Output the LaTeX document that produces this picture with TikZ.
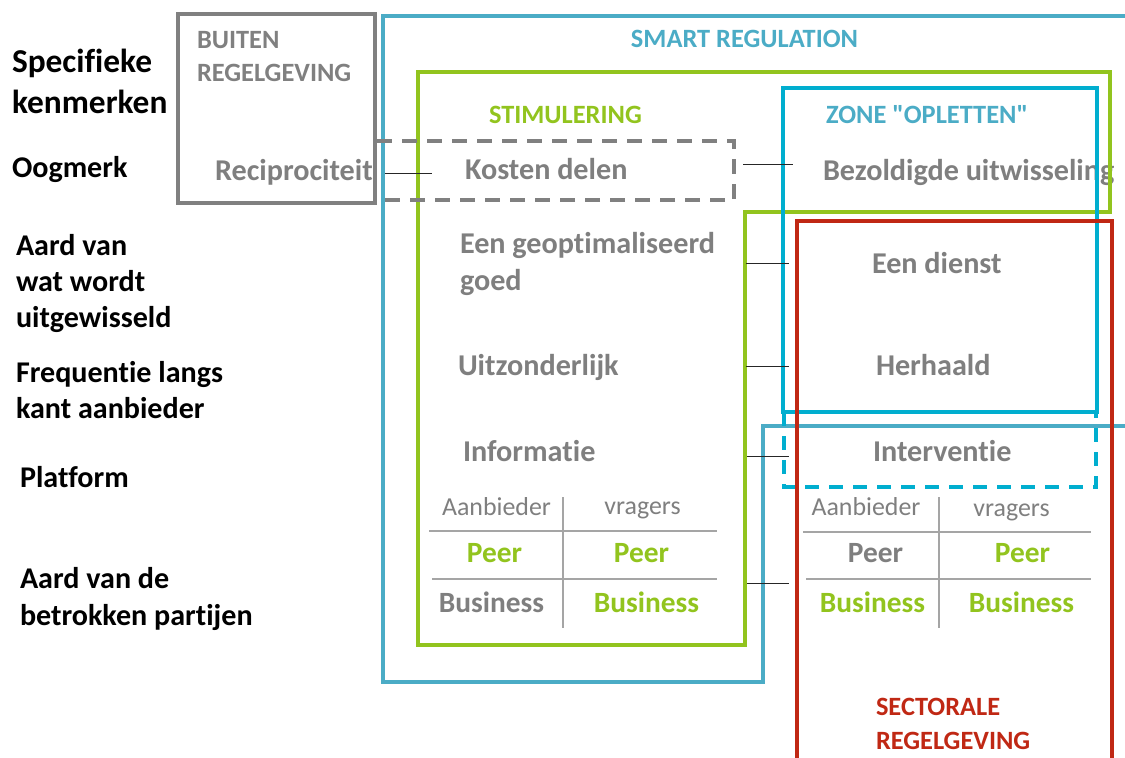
\documentclass[tikz,border=0pt]{standalone}
\usepackage{fontspec}
\setmainfont{Carlito}[Ligatures={TeX,NoCommon}]
\definecolor{txtgrey}{RGB}{127,127,127}
\definecolor{boxgrey}{RGB}{128,128,128}
\definecolor{stgreen}{RGB}{146,196,30}
\definecolor{smblue}{RGB}{75,172,198}
\definecolor{zcyan}{RGB}{0,174,207}
\definecolor{sred}{RGB}{192,40,20}
\definecolor{tabline}{RGB}{165,165,165}
\begin{document}
\begin{tikzpicture}[x=1bp,y=-1bp,
  every node/.style={inner sep=0pt,outer sep=0pt,anchor=base west},
  lefttxt/.style={font=\fontsize{30.2}{36}\selectfont\bfseries,text=black},
  bigleft/.style={font=\fontsize{33.5}{40}\selectfont\bfseries,text=black},
  greytxt/.style={font=\fontsize{30.3}{36}\selectfont\bfseries,text=txtgrey},
  headtxt/.style={font=\fontsize{26.5}{32}\selectfont\bfseries},
  tabhead/.style={font=\fontsize{26}{31}\selectfont,text=txtgrey,anchor=base},
  tabcell/.style={font=\fontsize{29.5}{35}\selectfont\bfseries,anchor=base},
  conn/.style={draw=black!85,line width=0.9bp},
  tabrule/.style={draw=tabline,line width=1.5bp},
  greybox/.style={draw=boxgrey,line width=4.5bp},
  bluebox/.style={draw=smblue,line width=3.5bp},
  greenbox/.style={draw=stgreen,line width=3.5bp},
  cyanbox/.style={draw=zcyan,line width=4.5bp},
  redbox/.style={draw=sred,line width=4bp}]
\useasboundingbox (0,0) rectangle (1125,758);
\clip (0,0) rectangle (1125,758);
\fill[white] (0,0) rectangle (1125,758);

% left column labels
\node[bigleft] (spec1) at (12,73) {Specifieke};
\node[bigleft] (spec2) at (12,113) {kenmerken};
\node[lefttxt] (oog) at (12,177) {Oogmerk};
\node[lefttxt] (aard1) at (16,255) {Aard van};
\node[lefttxt] (aard2) at (16,291) {wat wordt};
\node[lefttxt] (aard3) at (16,327) {uitgewisseld};
\node[lefttxt] (freq1) at (16,382) {Frequentie langs};
\node[lefttxt] (freq2) at (16,418) {kant aanbieder};
\node[lefttxt] (plat) at (20,487) {Platform};
\node[lefttxt] (part1) at (20,588) {Aard van de};
\node[lefttxt] (part2) at (20,625) {betrokken partijen};

% headings
\node[headtxt,text=boxgrey] (buit1) at (197,49) {BUITEN};
\node[headtxt,text=boxgrey] (buit2) at (197,82) {REGELGEVING};
\node[headtxt,text=smblue,anchor=base] (smart) at (744.5,48) {SMART REGULATION};
\node[headtxt,text=stgreen] (stim) at (489,123) {STIMULERING};
\node[headtxt,text=smblue] (zone) at (826,123) {ZONE \textquotedbl OPLETTEN\textquotedbl};
\node[headtxt,text=sred] (sect1) at (876,715) {SECTORALE};
\node[headtxt,text=sred] (sect2) at (876,749) {REGELGEVING};

% grey content labels
\node[greytxt] (reci) at (215,180) {Reciprociteit};
\node[greytxt] (kost) at (465,179) {Kosten delen};
\node[greytxt] (bezo) at (823,180) {Bezoldigde uitwisseling};
\node[greytxt] (geo1) at (460,253) {Een geoptimaliseerd};
\node[greytxt] (geo2) at (460,290) {goed};
\node[greytxt] (dien) at (872,273) {Een dienst};
\node[greytxt] (uitz) at (458,375) {Uitzonderlijk};
\node[greytxt] (herh) at (876,375) {Herhaald};
\node[greytxt] (info) at (463,461) {Informatie};
\node[greytxt] (inter) at (873,461) {Interventie};

% left table
\node[tabhead] (la) at (496.5,515) {Aanbieder};
\node[tabhead] (lv) at (642.5,514) {vragers};
\node[tabcell,text=stgreen] (lp1) at (494.5,562) {Peer};
\node[tabcell,text=stgreen] (lp2) at (641.5,562) {Peer};
\node[tabcell,text=txtgrey] (lb1) at (491.5,612) {Business};
\node[tabcell,text=stgreen] (lb2) at (646.5,612) {Business};
\coordinate (lvt) at (563,497); \coordinate (lvb) at (563,628);
\coordinate (lh1a) at (429,531); \coordinate (lh1b) at (717,531);
\coordinate (lh2a) at (432,579); \coordinate (lh2b) at (717,579);
\draw[tabrule] (lvt) -- (lvb);
\draw[tabrule] (lh1a) -- (lh1b);
\draw[tabrule] (lh2a) -- (lh2b);

% right table
\node[tabhead] (ra) at (866,515) {Aanbieder};
\node[tabhead] (rv) at (1011.5,516) {vragers};
\node[tabcell,text=txtgrey] (rp1) at (875.5,562) {Peer};
\node[tabcell,text=stgreen] (rp2) at (1022.5,562) {Peer};
\node[tabcell,text=stgreen] (rb1) at (872.5,612) {Business};
\node[tabcell,text=stgreen] (rb2) at (1021.5,612) {Business};
\coordinate (rvt) at (939,497); \coordinate (rvb) at (939,628);
\coordinate (rh1a) at (803,532); \coordinate (rh1b) at (1091,532);
\coordinate (rh2a) at (806,579); \coordinate (rh2b) at (1091,579);
\draw[tabrule] (rvt) -- (rvb);
\draw[tabrule] (rh1a) -- (rh1b);
\draw[tabrule] (rh2a) -- (rh2b);

% boxes
\draw[bluebox] (1130,16) -- (383,16) -- (383,682) -- (763,682) -- (763,426) -- (1130,426);
\draw[greenbox] (418,72) -- (1110,72) -- (1110,212) -- (745,212) -- (745,645) -- (418,645) -- cycle;
\draw[greybox] (178,14) rectangle (375,203);
\draw[greybox,dash pattern=on 15bp off 10bp] (377,141) -- (734,141) -- (734,200) -- (377,200);
\draw[cyanbox] (783,88) rectangle (1097,412);
\draw[cyanbox,dash pattern=on 14bp off 10bp] (784,412) -- (784,487) -- (1096,487) -- (1096,412);
\draw[redbox] (797,775) -- (797,221) -- (1112,221) -- (1112,775);

% connectors
\coordinate (k1a) at (385,173); \coordinate (k1b) at (432,173);
\coordinate (k2a) at (743,164); \coordinate (k2b) at (793,164);
\coordinate (k3a) at (746,263); \coordinate (k3b) at (789,263);
\coordinate (k4a) at (746,366); \coordinate (k4b) at (789,366);
\coordinate (k5a) at (747,456); \coordinate (k5b) at (789,456);
\coordinate (k6a) at (747,583); \coordinate (k6b) at (789,583);
\draw[conn] (k1a) -- (k1b);
\draw[conn] (k2a) -- (k2b);
\draw[conn] (k3a) -- (k3b);
\draw[conn] (k4a) -- (k4b);
\draw[conn] (k5a) -- (k5b);
\draw[conn] (k6a) -- (k6b);
\end{tikzpicture}
\end{document}
